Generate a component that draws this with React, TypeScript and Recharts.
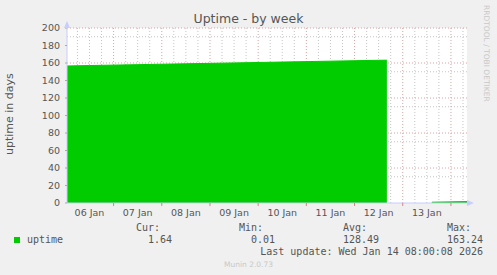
import React from "react"
import { AreaChart, Area, XAxis, YAxis, CartesianGrid } from "recharts"

// hours since 06 Jan 00:00
const hours = [0.8, 12, 36, 60, 84, 108, 132, 156, 160.1, 171, 182.5, 190, 200]
const uptime = [156.6, 157.1, 158.1, 159.1, 160.1, 161.1, 162.1, 163.1, 163.24, null, 0.91, 1.22, 1.64]

const dayLabels = ["06 Jan", "07 Jan", "08 Jan", "09 Jan", "10 Jan", "11 Jan", "12 Jan", "13 Jan"]
const labelHours = [12, 36, 60, 84, 108, 132, 156, 180]
const midnightHours = [24, 48, 72, 96, 120, 144, 168, 192]
const sixHourLines = [6, 12, 18, 30, 36, 42, 54, 60, 66, 78, 84, 90, 102, 108, 114, 126, 132, 138, 150, 156, 162, 174, 180, 186, 198]
const yTicks = [0, 20, 40, 60, 80, 100, 120, 140, 160, 180, 200]
const yMinor = [10, 30, 50, 70, 90, 110, 130, 150, 170, 190]

const stats = [
  { label: "Cur:", value: "1.64", right: 172 },
  { label: "Min:", value: "0.01", right: 275 },
  { label: "Avg:", value: "128.49", right: 379 },
  { label: "Max:", value: "163.24", right: 483 },
]

const data = hours.map((h, i) => ({ h, uptime: uptime[i] }))

const sans = "'DejaVu Sans', sans-serif"
const mono = "'DejaVu Sans Mono', monospace"
const minorGrid = "#c4c4c4"
const majorGrid = "#e0a0a0"
const axisBlue = "#c8ccff"

export default function App() {
  const abs = (s: React.CSSProperties): React.CSSProperties => ({ position: "absolute", whiteSpace: "pre", ...s })
  return (
    <div style={{ position: "absolute", left: 0, top: 0, width: 497, height: 275, background: "#f0f0f0", overflow: "hidden" }}>
      <AreaChart width={497} height={275} data={data} margin={{ top: 28, right: 30, left: 27, bottom: 47 }}>
        <CartesianGrid
          fill="#ffffff"
          stroke={minorGrid}
          strokeDasharray="1 2"
          horizontalValues={yMinor}
          verticalValues={sixHourLines}
        />
        <CartesianGrid
          stroke={majorGrid}
          strokeDasharray="1 2"
          horizontalValues={yTicks.filter((v) => v > 0)}
          verticalValues={midnightHours}
        />
        <XAxis
          xAxisId={0}
          dataKey="h"
          type="number"
          domain={[0.8, 200]}
          ticks={midnightHours}
          tickFormatter={() => ""}
          height={5}
          tickSize={3}
          tickLine={{ stroke: "#e08080" }}
          axisLine={{ stroke: axisBlue }}
        />
        <XAxis
          xAxisId="lab"
          dataKey="h"
          type="number"
          domain={[0.8, 200]}
          ticks={labelHours}
          tickFormatter={(v: number) => dayLabels[labelHours.indexOf(v)]}
          height={20}
          tickSize={0}
          tickMargin={1}
          tickLine={false}
          axisLine={false}
          tick={{ fontSize: 9.5, fill: "#555", fontFamily: sans }}
        />
        <YAxis
          type="number"
          domain={[0, 200]}
          ticks={yTicks}
          width={40}
          tickSize={2}
          tickMargin={5}
          tickLine={{ stroke: "#aaa" }}
          axisLine={{ stroke: axisBlue }}
          tick={{ fontSize: 9.5, fill: "#555", fontFamily: sans }}
        />
        <Area
          dataKey="uptime"
          type="linear"
          fill="#00cc00"
          fillOpacity={1}
          stroke="#00cc00"
          strokeWidth={1}
          connectNulls={false}
          baseValue={0}
          isAnimationActive={false}
        />
      </AreaChart>

      {/* axis arrows */}
      <div style={abs({ left: 64, top: 21, width: 0, height: 0, borderLeft: "3px solid transparent", borderRight: "3px solid transparent", borderBottom: "7px solid " + axisBlue })} />
      <div style={abs({ left: 467, top: 200, width: 0, height: 0, borderTop: "3px solid transparent", borderBottom: "3px solid transparent", borderLeft: "7px solid " + axisBlue })} />

      <div style={abs({ left: 0, width: 497, top: 11, textAlign: "center", fontFamily: sans, fontSize: 12.5, lineHeight: "15px", color: "#555" })}>
        Uptime - by week
      </div>
      <div style={abs({ left: 3, top: 70, height: 88, lineHeight: "14px", writingMode: "vertical-rl", transform: "rotate(180deg)", textAlign: "center", fontFamily: sans, fontSize: 11, color: "#555" })}>
        uptime in days
      </div>
      <div style={abs({ left: 482, top: 5, lineHeight: "9px", writingMode: "vertical-rl", fontFamily: sans, fontSize: 7.5, color: "#c8c8c8" })}>
        RRDTOOL / TOBI OETIKER
      </div>

      <div style={abs({ left: 14, top: 237, width: 6, height: 6, background: "#00cc00" })} />
      <div style={abs({ left: 27, top: 235, fontFamily: mono, fontSize: 10, lineHeight: "10px", color: "#555" })}>uptime</div>
      {stats.map((s) => (
        <React.Fragment key={s.label}>
          <div style={abs({ right: 497 - s.right + 12, top: 223, fontFamily: mono, fontSize: 10, lineHeight: "10px", color: "#555" })}>
            {s.label}
          </div>
          <div style={abs({ right: 497 - s.right, top: 235, fontFamily: mono, fontSize: 10, lineHeight: "10px", color: "#555" })}>
            {s.value}
          </div>
        </React.Fragment>
      ))}
      <div style={abs({ right: 497 - 483, top: 247, fontFamily: mono, fontSize: 10, lineHeight: "10px", color: "#555" })}>
        Last update: Wed Jan 14 08:00:08 2026
      </div>
      <div style={abs({ left: 0, width: 497, top: 260, textAlign: "center", fontFamily: sans, fontSize: 7.5, lineHeight: "9px", color: "#c8c8c8" })}>
        Munin 2.0.73
      </div>
    </div>
  )
}
